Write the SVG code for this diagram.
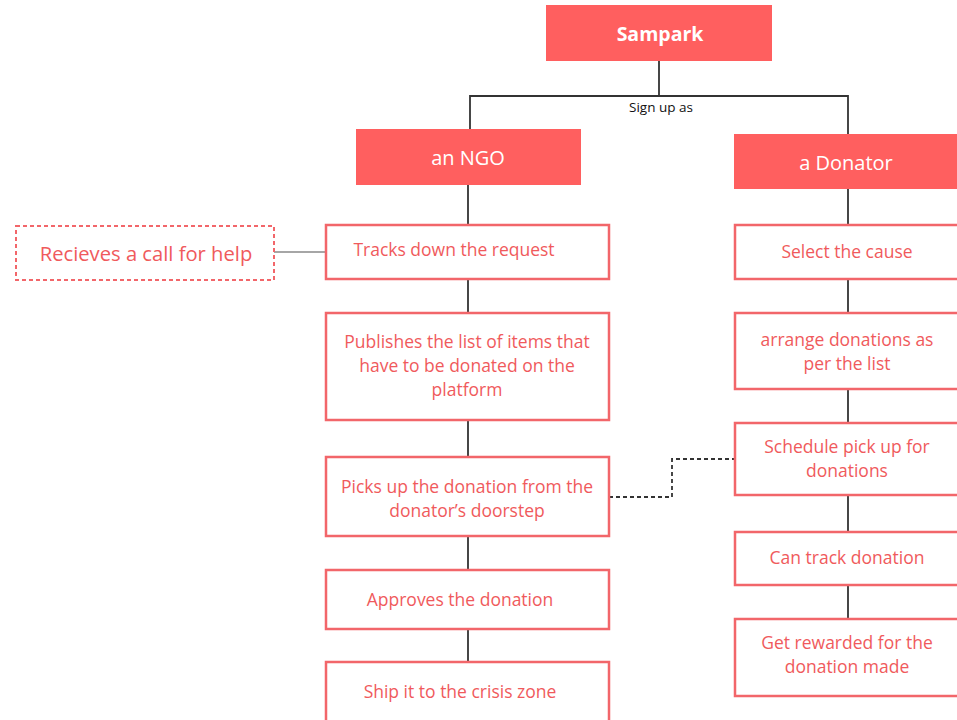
<svg xmlns="http://www.w3.org/2000/svg" width="957" height="720" viewBox="0 0 957 720">
<style>
.hd{fill:#FF5F5F}
.hdt{fill:#fff;font-family:"Open Sans",sans-serif;font-size:20px;font-weight:500;text-anchor:middle}
.bx{fill:#fff;stroke:#F2666A;stroke-width:2.5}
.t{fill:#F05A5C;font-family:"Open Sans",sans-serif;font-size:17.5px;font-weight:500;text-anchor:middle}
.ln{stroke:#333;stroke-width:1.8;fill:none}
</style>
<rect width="957" height="720" fill="#fff"/>
<g id="connectors">
<path class="ln" d="M659 61V96M470 96H848M470 95V129M848 95V134"/>
<path class="ln" d="M468 185V225M468 279V313M468 420V457M468 536V570M468 629V662"/>
<path class="ln" d="M848 189V225M848 279V313M848 389V423M848 495V532M848 585V619"/>
<path d="M274 252H326" stroke="#888" stroke-width="1.5"/>
<path d="M609 497H672V459H735" fill="none" stroke="#333" stroke-width="1.8" stroke-dasharray="4 3"/>
<text x="661" y="112" font-family="'Open Sans',sans-serif" font-size="13.5" font-weight="500" fill="#111" text-anchor="middle">Sign up as</text>
</g>
<g id="sampark"><rect class="hd" x="546" y="5" width="226" height="56"/><text class="hdt" x="660" y="41" style="font-weight:700;font-size:19.5px">Sampark</text></g>
<g id="ngo"><rect class="hd" x="356" y="129" width="225" height="56"/><text class="hdt" x="468" y="165">an NGO</text></g>
<g id="donator"><rect class="hd" x="734" y="134" width="230" height="55"/><text class="hdt" x="846" y="170">a Donator</text></g>
<g id="recieves"><rect x="16" y="226" width="258" height="54" fill="#fff" stroke="#F2666A" stroke-width="2" stroke-dasharray="4 3"/><text class="t" x="146" y="261" style="font-size:20.2px">Recieves a call for help</text></g>
<g id="tracks"><rect class="bx" x="326" y="225" width="283" height="54"/><text class="t" x="454" y="256">Tracks down the request</text></g>
<g id="publishes"><rect class="bx" x="326" y="313" width="283" height="107"/><text class="t" x="467" y="348">Publishes the list of items that</text><text class="t" x="467" y="372">have to be donated on the</text><text class="t" x="467" y="396">platform</text></g>
<g id="picks"><rect class="bx" x="326" y="457" width="283" height="79"/><text class="t" x="467" y="493">Picks up the donation from the</text><text class="t" x="467" y="517">donator’s doorstep</text></g>
<g id="approves"><rect class="bx" x="326" y="570" width="283" height="59"/><text class="t" x="460" y="606">Approves the donation</text></g>
<g id="ship"><rect class="bx" x="326" y="662" width="283" height="70"/><text class="t" x="460" y="698">Ship it to the crisis zone</text></g>
<g id="select"><rect class="bx" x="735" y="225" width="226" height="54"/><text class="t" x="847" y="258">Select the cause</text></g>
<g id="arrange"><rect class="bx" x="735" y="313" width="226" height="76"/><text class="t" x="847" y="346">arrange donations as</text><text class="t" x="847" y="370">per the list</text></g>
<g id="schedule"><rect class="bx" x="735" y="423" width="226" height="72"/><text class="t" x="847" y="453">Schedule pick up for</text><text class="t" x="847" y="477">donations</text></g>
<g id="cantrack"><rect class="bx" x="735" y="532" width="226" height="53"/><text class="t" x="847" y="564">Can track donation</text></g>
<g id="rewarded"><rect class="bx" x="735" y="619" width="226" height="77"/><text class="t" x="847" y="649">Get rewarded for the</text><text class="t" x="847" y="673">donation made</text></g>
</svg>
